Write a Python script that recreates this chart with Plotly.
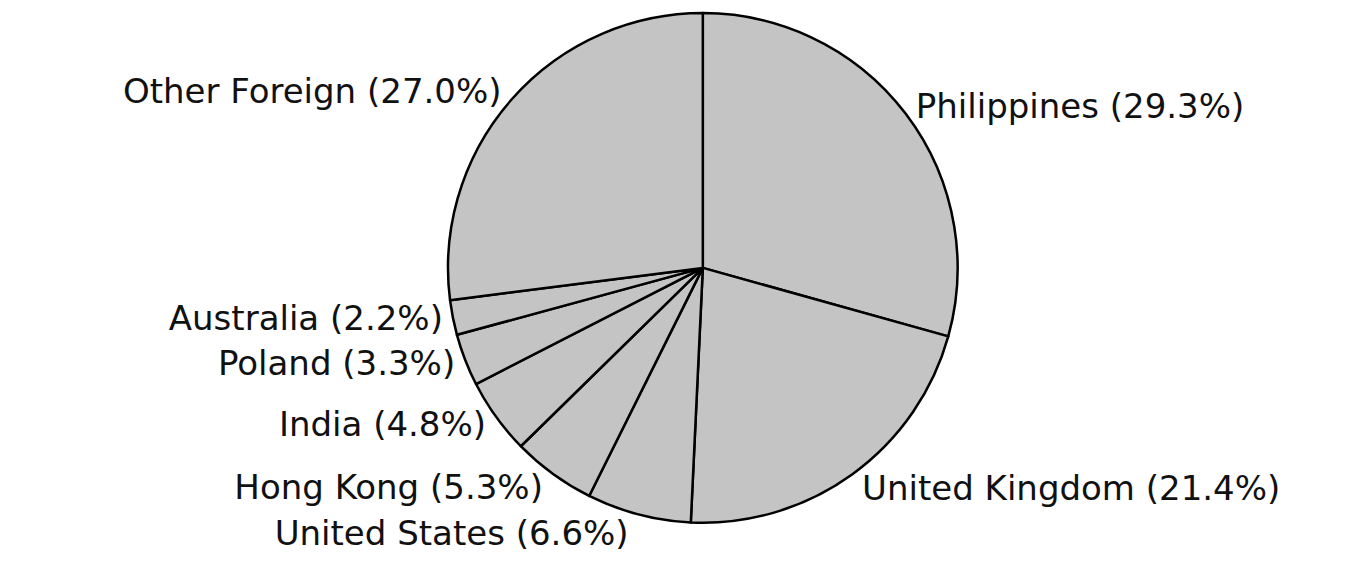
import plotly.graph_objects as go

countries = ["Philippines", "United Kingdom", "United States", "Hong Kong",
             "India", "Poland", "Australia", "Other Foreign"]
shares = [29.3, 21.4, 6.6, 5.3, 4.8, 3.3, 2.2, 27.0]

fig = go.Figure(go.Pie(
    labels=countries,
    values=shares,
    sort=False,
    direction="clockwise",
    rotation=0,
    marker=dict(colors=["#c4c4c4"] * len(countries),
                line=dict(color="#000000", width=2.5)),
    texttemplate="%{label} (%{value:.1f}%)",
    textposition="outside",
    textfont=dict(family="DejaVu Sans", size=34, color="#111111"),
    showlegend=False,
    hoverinfo="label+value",
    domain=dict(x=[0.327, 0.699], y=[0.073, 0.977]),
))

fig.update_layout(
    width=1370, height=564,
    margin=dict(l=0, r=0, t=0, b=0),
    paper_bgcolor="white",
    plot_bgcolor="white",
)

fig.write_html("out.html")
